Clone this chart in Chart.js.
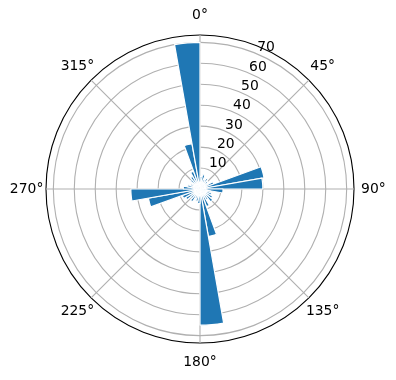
<!DOCTYPE html>
<html><head><meta charset="utf-8">
<script src="https://cdn.jsdelivr.net/npm/chart.js@4/dist/chart.umd.min.js"></script>
<style>html,body{margin:0;padding:0;background:#fff}</style>
</head><body>
<canvas id="c" width="396" height="380"></canvas>
<script>
// ---- data ----
const angleLabels = ['0°','45°','90°','135°','180°','225°','270°','315°'];
const binCenters = [5,15,25,35,45,55,65,75,85,95,105,115,125,135,145,155,165,175,
                    185,195,205,215,225,235,245,255,265,275,285,295,305,315,325,335,345,355];
const counts     = [6,7,5,6,5,4,7,31,30,11,5,6,7,8,6,9,23,65,
                    7,6,5,7,6,8,9,25,33,8,6,5,4,6,7,9,22,70];
const barWidth = 10;           // degrees
const rTicks = [10,20,30,40,50,60,70];
const rMax = 73.5;

// ---- build arc table (bars + empty gaps) for polarArea ----
const segValues = [], segAngles = [], segIsBar = [];
let cursor = 0;
binCenters.forEach((c, i) => {
  const s = c - barWidth / 2;
  if (s - cursor > 1e-6) { segValues.push(0); segAngles.push(s - cursor); segIsBar.push(false); }
  segValues.push(counts[i]); segAngles.push(barWidth); segIsBar.push(true);
  cursor = s + barWidth;
});

const FONT = 'DejaVu Sans';
const labelPlugin = {
  id: 'labels',
  afterDraw(chart) {
    const sc = chart.scales.r, ctx = chart.ctx;
    ctx.save();
    ctx.fillStyle = '#000';
    ctx.font = '13.9px "' + FONT + '"';
    ctx.textAlign = 'left'; ctx.textBaseline = 'bottom';
    rTicks.forEach(v => {
      const p = sc.getPointPosition(0.5, sc.getDistanceFromCenterForValue(v));
      ctx.fillText(String(v), p.x + 1, p.y + 1);
    });
    ctx.textAlign = 'center'; ctx.textBaseline = 'middle';
    angleLabels.forEach((t, i) => {
      const p = sc.getPointPosition(i, sc.drawingArea + 19.4);
      ctx.fillText(t, p.x, p.y);
    });
    ctx.restore();
  }
};

new Chart(document.getElementById('c'), {
  type: 'polarArea',
  data: {
    labels: angleLabels,
    datasets: [{
      data: segValues,
      backgroundColor: segIsBar.map(b => b ? '#1f77b4' : 'rgba(0,0,0,0)'),
      borderColor: '#ffffff',
      borderWidth: segIsBar.map(b => b ? 1.2 : 0),
      angle: c => segAngles[c.dataIndex]
    }]
  },
  options: {
    responsive: false, animation: false, devicePixelRatio: 1,
    layout: { padding: { left: 46, right: 42, top: 35, bottom: 37 } },
    plugins: { legend: { display: false }, tooltip: { enabled: false } },
    scales: {
      r: {
        min: 0, max: rMax, startAngle: 0, z: 1,
        ticks: { display: false, stepSize: 10 },
        afterBuildTicks: s => { s.ticks = [0, ...rTicks, rMax].map(v => ({ value: v })); },
        grid: {
          circular: true,
          color: c => (c.tick && c.tick.value >= rMax) ? '#000000' : '#b0b0b0',
          lineWidth: 1.1
        },
        angleLines: { display: true, color: '#b0b0b0', lineWidth: 1.1 },
        pointLabels: { display: false }
      }
    }
  },
  plugins: [labelPlugin]
});
</script>
</body></html>
